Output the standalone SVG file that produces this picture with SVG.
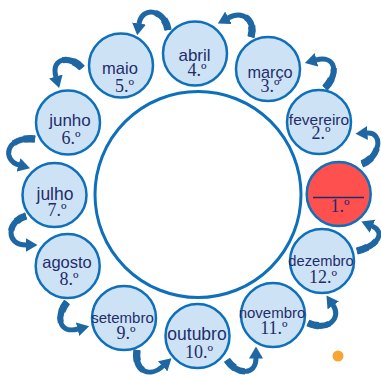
<svg xmlns="http://www.w3.org/2000/svg" width="381" height="377" viewBox="0 0 381 377">
<style>
.c{fill:#cde3f5;stroke:#0e6fba;stroke-width:2.5}
.n{font-family:"Liberation Sans",Arial,sans-serif;fill:#1f2d6b;text-anchor:middle}
.o{font-family:"Liberation Serif","Times New Roman",serif;font-size:18px;fill:#1f2d6b;text-anchor:middle}
.a{fill:none;stroke:#1f67a3;stroke-width:5;marker-end:url(#ah)}
.t1{fill:none;stroke:#1f67a3;stroke-width:6.2;stroke-dasharray:22 200}
.t2{fill:none;stroke:#1f67a3;stroke-width:7.4;stroke-dasharray:11 200}
</style>
<defs>
<marker id="ah" markerUnits="userSpaceOnUse" viewBox="0 0 12 14" markerWidth="12" markerHeight="14" refX="0.5" refY="7" orient="auto">
<path d="M0,0 L12,7 L0,14 z" fill="#1f67a3"/>
</marker>
<path id="p1" d="M362,164 C380,157 384,132 367,133"/>
<path id="p2" d="M325,88 C340,72 335,55 316,60"/>
<path id="p3" d="M251,37 C256,20 243,10 228,18"/>
<path id="p4" d="M168,30 C165,10 142,5 139,24"/>
<path id="p5" d="M82,68 C72,56 50,56 56,77"/>
<path id="p6" d="M35,139 C5,136 2,160 19,165"/>
<path id="p7" d="M26,216 C6,222 6,245 26,245"/>
<path id="p8" d="M67,302 C56,316 58,334 78,329"/>
<path id="p9" d="M137,350 C134,372 150,378 163,366"/>
<path id="p10" d="M227,360 C237,375 256,376 256,358"/>
<path id="p11" d="M308,323 C328,332 342,318 333,305"/>
<path id="p12" d="M357,251 C378,246 386,232 372,226"/>
</defs>
<rect width="381" height="377" fill="#ffffff"/>
<g id="centre"><circle cx="198" cy="194.5" r="103" fill="#ffffff" stroke="#0e6fba" stroke-width="3"/></g>
<g id="connectors">
<use class="a" href="#p1"/><use class="t1" href="#p1"/><use class="t2" href="#p1"/>
<use class="a" href="#p2"/><use class="t1" href="#p2"/><use class="t2" href="#p2"/>
<use class="a" href="#p3"/><use class="t1" href="#p3"/><use class="t2" href="#p3"/>
<use class="a" href="#p4"/><use class="t1" href="#p4"/><use class="t2" href="#p4"/>
<use class="a" href="#p5"/><use class="t1" href="#p5"/><use class="t2" href="#p5"/>
<use class="a" href="#p6"/><use class="t1" href="#p6"/><use class="t2" href="#p6"/>
<use class="a" href="#p7"/><use class="t1" href="#p7"/><use class="t2" href="#p7"/>
<use class="a" href="#p8"/><use class="t1" href="#p8"/><use class="t2" href="#p8"/>
<use class="a" href="#p9"/><use class="t1" href="#p9"/><use class="t2" href="#p9"/>
<use class="a" href="#p10"/><use class="t1" href="#p10"/><use class="t2" href="#p10"/>
<use class="a" href="#p11"/><use class="t1" href="#p11"/><use class="t2" href="#p11"/>
<use class="a" href="#p12"/><use class="t1" href="#p12"/><use class="t2" href="#p12"/>
</g>
<g id="m1"><circle cx="338.7" cy="194" r="32" fill="#ff5050" stroke="#0e6fba" stroke-width="2.5"/><line x1="313" y1="197.5" x2="364" y2="197.5" stroke="#1f2d6b" stroke-width="1.5"/><text class="o" x="340" y="212">1.º</text></g>
<g id="m2"><circle class="c" cx="319" cy="122" r="32"/><text class="n" x="319" y="124.5" font-size="15.5">fevereiro</text><text class="o" x="321" y="139">2.º</text></g>
<g id="m3"><circle class="c" cx="268" cy="69" r="32"/><text class="n" x="270" y="78" font-size="16.3">março</text><text class="o" x="270" y="92">3.º</text></g>
<g id="m4"><circle class="c" cx="195" cy="53.5" r="32"/><text class="n" x="194.5" y="61" font-size="17">abril</text><text class="o" x="197" y="75.5">4.º</text></g>
<g id="m5"><circle class="c" cx="121" cy="65.5" r="32"/><text class="n" x="120" y="73.5" font-size="16.5">maio</text><text class="o" x="124.5" y="91.5">5.º</text></g>
<g id="m6"><circle class="c" cx="68" cy="122.5" r="32"/><text class="n" x="70" y="125.5" font-size="17">junho</text><text class="o" x="71" y="144">6.º</text></g>
<g id="m7"><circle class="c" cx="54.5" cy="195" r="32"/><text class="n" x="55" y="199.5" font-size="17.5">julho</text><text class="o" x="57" y="216">7.º</text></g>
<g id="m8"><circle class="c" cx="67.7" cy="266" r="32"/><text class="n" x="67" y="268" font-size="16.5">agosto</text><text class="o" x="69" y="285">8.º</text></g>
<g id="m9"><circle class="c" cx="124" cy="318" r="32"/><text class="n" x="122.5" y="322.5" font-size="15">setembro</text><text class="o" x="126" y="339">9.º</text></g>
<g id="m10"><circle class="c" cx="197.5" cy="336" r="32"/><text class="n" x="197" y="339.5" font-size="17.5">outubro</text><text class="o" x="199" y="358">10.º</text></g>
<g id="m11"><circle class="c" cx="273" cy="315" r="32"/><text class="n" x="272" y="318" font-size="15">novembro</text><text class="o" x="274" y="334">11.º</text></g>
<g id="m12"><circle class="c" cx="322" cy="261" r="32"/><text class="n" x="321" y="265.5" font-size="14.7">dezembro</text><text class="o" x="323" y="282.5">12.º</text></g>
<g id="dot"><circle cx="338" cy="356" r="5.5" fill="#f8a534"/></g>
</svg>
